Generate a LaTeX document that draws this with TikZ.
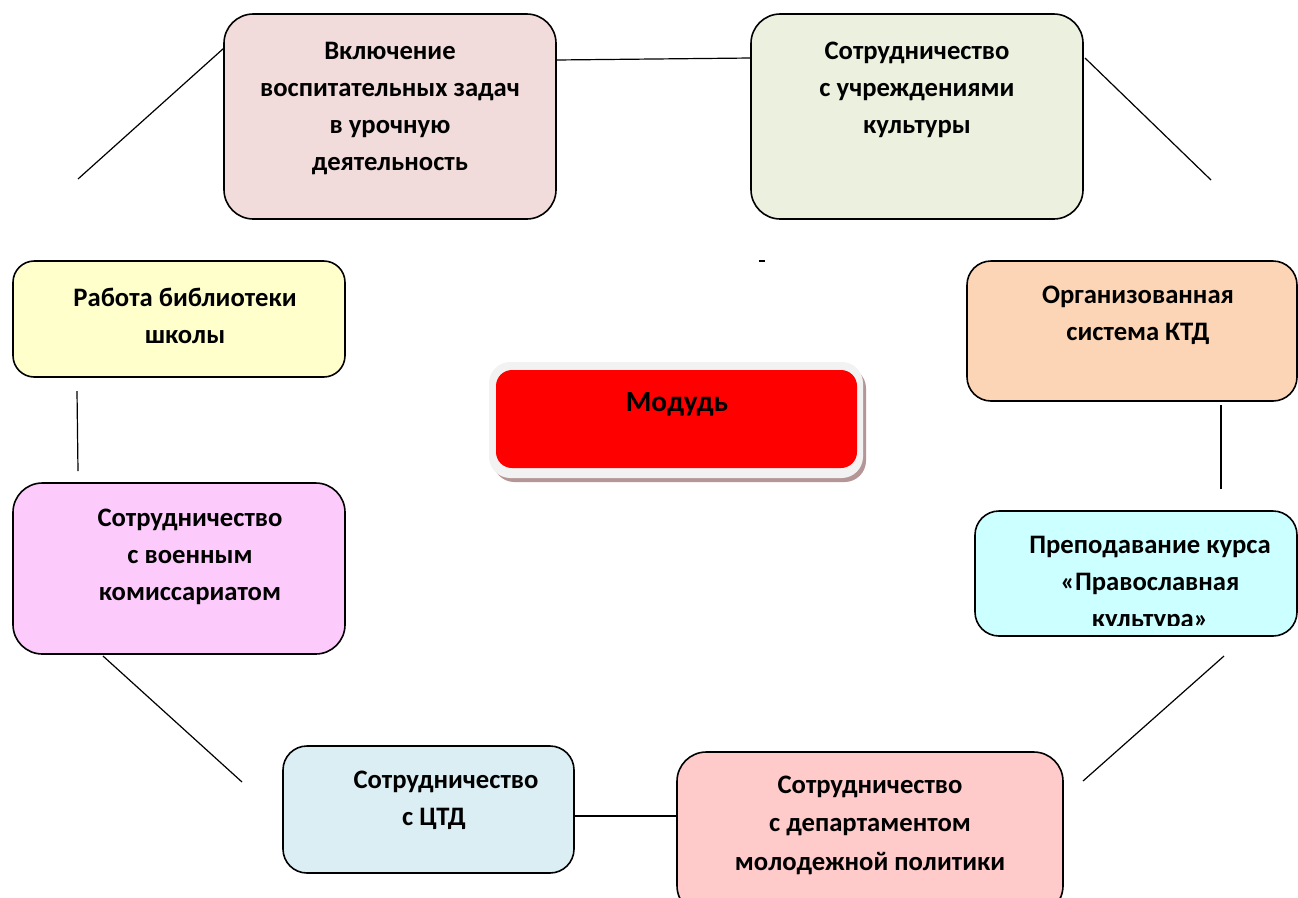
\documentclass[tikz,border=0pt]{standalone}
\usepackage{fontspec}
\setmainfont{Carlito}
\definecolor{cA}{HTML}{F2DCDB}
\definecolor{cB}{HTML}{EBF1DE}
\definecolor{cC}{HTML}{FFFFCC}
\definecolor{cD}{HTML}{FBD5B5}
\definecolor{cE}{HTML}{FCCBFC}
\definecolor{cF}{HTML}{CCFFFF}
\definecolor{cG}{HTML}{DAEEF3}
\definecolor{cH}{HTML}{FFCACA}
\definecolor{frameGrey}{HTML}{F2F2F2}
\definecolor{shadowBrown}{HTML}{B49696}
\begin{document}
\begin{tikzpicture}[x=0.75pt,y=-0.75pt,
  boxstyle/.style={draw=black,line width=1.2pt,rounded corners=22pt},
  txt/.style={font=\bfseries\fontsize{20}{27.75}\selectfont,align=center,inner sep=0pt},
  conn/.style={line width=0.9pt,draw=black}]
\useasboundingbox (0,0) rectangle (1298,897);
\clip (0,0) rectangle (1298,897);
\fill[white] (0,0) rectangle (1298,897);
% boxes
\draw[boxstyle,fill=cA] (224,14) rectangle (556,219);
\node[txt] (t1) at (390,108) {Включение\\воспитательных задач\\в урочную\\деятельность};
\draw[boxstyle,fill=cB] (751,14) rectangle (1083,219);
\node[txt] (t2) at (917,90) {Сотрудничество\\с учреждениями\\культуры};
\draw[boxstyle,rounded corners=16pt,fill=cC] (13,261) rectangle (345,377);
\node[txt] (t3) at (185,316) {Работа библиотеки\\школы};
\draw[boxstyle,rounded corners=18pt,fill=cD] (967,261) rectangle (1297,401);
\node[txt] (t4) at (1138,315) {Организованная\\система КТД};
\draw[boxstyle,fill=cE] (13,483) rectangle (345,654);
\node[txt] (t6) at (190,557) {Сотрудничество\\с военным\\комиссариатом};
\draw[boxstyle,rounded corners=18pt,fill=cF] (975,511) rectangle (1297,636);
\begin{scope}
\clip (975,511) rectangle (1297,625);
\node[txt] (t7) at (1150,584) {Преподавание курса\\«Православная\\культура»};
\end{scope}
\draw[boxstyle,rounded corners=18pt,fill=cG] (283,746) rectangle (574,873);
\node[txt] (t8) at (446,800) {Сотрудничество\\с ЦТД\hspace*{18pt}};
\draw[boxstyle,fill=cH] (677,752) rectangle (1063,915);
\node[txt,font=\bfseries\fontsize{20}{28.9}\selectfont] (t9) at (870,825) {Сотрудничество\\с департаментом\\молодежной политики};
% central box
\fill[shadowBrown,rounded corners=16pt] (493,367) rectangle (866,482);
\fill[frameGrey,rounded corners=16pt] (489,362) rectangle (863,478);
\fill[red,rounded corners=12pt] (496,370) rectangle (857,468);
\node[txt,font=\bfseries\fontsize{22}{26}\selectfont] (tm) at (677,404) {Модудь};
% connectors
\coordinate (a1) at (224,48); \coordinate (a2) at (78,179);
\coordinate (b1) at (556,60); \coordinate (b2) at (751,58);
\coordinate (c1) at (1085,58); \coordinate (c2) at (1211,180);
\coordinate (d1) at (77,391); \coordinate (d2) at (78,471);
\coordinate (e1) at (1221,405); \coordinate (e2) at (1221,489);
\coordinate (f1) at (103,656); \coordinate (f2) at (242,782);
\coordinate (g1) at (574,816); \coordinate (g2) at (677,816);
\coordinate (h1) at (1224,656); \coordinate (h2) at (1083,781);
\coordinate (k1) at (759,261); \coordinate (k2) at (765,261);
\draw[conn] (a1) -- (a2);
\draw[conn] (b1) -- (b2);
\draw[conn] (c1) -- (c2);
\draw[conn] (d1) -- (d2);
\draw[conn] (e1) -- (e2);
\draw[conn] (f1) -- (f2);
\draw[conn] (g1) -- (g2);
\draw[conn] (h1) -- (h2);
\draw[line width=1.3pt] (k1) -- (k2);
\end{tikzpicture}
\end{document}
